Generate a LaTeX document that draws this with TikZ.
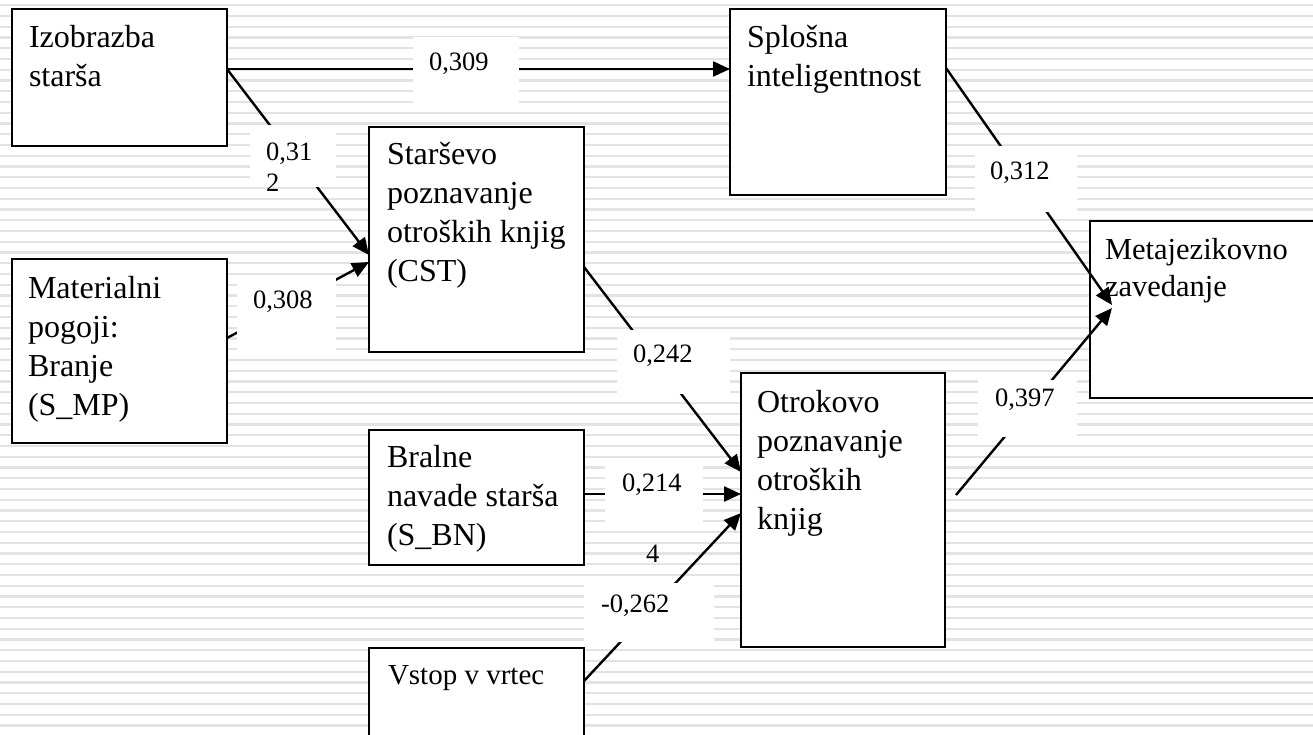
\documentclass[tikz,border=0pt]{standalone}
\usepackage{fontspec}
\setmainfont{Liberation Serif}
\usetikzlibrary{arrows.meta}
\newcommand\fst{\rule{0pt}{0.78em}}
\begin{document}
\begin{tikzpicture}[x=1pt,y=-1pt,
  stripe/.style={draw=black!11, line width=2.2pt},
  box/.style={draw=black, fill=white, line width=2pt, inner sep=0pt, outer sep=0pt, anchor=north west},
  conn/.style={draw=black, line width=2.4pt},
  arr/.style={conn, -{Triangle[length=17pt,width=15pt]}},
  labbg/.style={fill=white},
  txt/.style={anchor=north west, inner sep=0pt, outer sep=0pt, align=left, font=\fontsize{32}{39}\selectfont},
  txtm/.style={txt, font=\fontsize{30.5}{37}\selectfont},
  txts/.style={txt, font=\fontsize{29}{37}\selectfont},
  lab/.style={anchor=north west, inner sep=0pt, outer sep=0pt, align=left, font=\fontsize{26.5}{31}\selectfont}]
\clip (0,0) rectangle (1313,734);
\fill[white] (0,0) rectangle (1313,734);
\foreach \i in {0,...,68} \draw[stripe] (0,5.3+10.75*\i) -- (1313,5.3+10.75*\i);

% boxes
\node[box, minimum width=215pt, minimum height=137pt] (izo) at (12,9) {};
\node[box, minimum width=216pt, minimum height=186pt] (spl) at (730,9) {};
\node[box, minimum width=215pt, minimum height=225pt] (cst) at (369,127) {};
\node[box, minimum width=215pt, minimum height=184pt] (mat) at (12,259) {};
\node[box, minimum width=215pt, minimum height=135pt] (bra) at (369,430) {};
\node[box, minimum width=215pt, minimum height=120pt] (vst) at (369,648) {};
\node[box, minimum width=204pt, minimum height=274pt] (otr) at (741,373) {};
\node[box, minimum width=240pt, minimum height=177pt] (met) at (1090,221) {};

% connectors
\draw[arr] ([yshift=-60pt]izo.north east) -- ([yshift=-60pt]spl.north west);
\draw[arr] ([yshift=-60pt]izo.north east) -- ([yshift=-128pt]cst.north west);
\draw[arr] ([yshift=-79pt]mat.north east) -- ([yshift=-135pt]cst.north west);
\draw[arr] ([yshift=-140pt]cst.north east) -- ([yshift=-99pt]otr.north west);
\draw[arr] ([yshift=-64pt]bra.north east) -- ([yshift=-121pt]otr.north west);
\draw[arr] ([yshift=-33pt]vst.north east) -- ([yshift=-140pt]otr.north west);
\draw[arr] ([yshift=-59pt]spl.north east) -- ([xshift=22pt,yshift=-84pt]met.north west);
\coordinate (otrout) at ([xshift=11pt,yshift=-122pt]otr.north east);
\draw[arr] (otrout) -- ([xshift=22pt,yshift=-87pt]met.north west);

% label backgrounds
\fill[labbg] (413,37) rectangle (519,103);
\fill[labbg] (250,125) rectangle (336,187);
\fill[labbg] (237,275) rectangle (336,350);
\fill[labbg] (617,330) rectangle (730,394);
\fill[labbg] (605,466) rectangle (703,530);
\fill[labbg] (584,583) rectangle (714,642);
\fill[labbg] (975,146) rectangle (1077,212);
\fill[labbg] (978,380) rectangle (1077,437);

% labels
\node[lab] (l309) at (429,50.3) {\fst 0,309};
\node[lab] (l312a) at (266,140.3) {\fst 0,31\\2};
\node[lab] (l308) at (253,288.3) {\fst 0,308};
\node[lab] (l242) at (633,342.3) {\fst 0,242};
\node[lab] (l214) at (622,471.3) {\fst 0,214};
\node[lab] (l4) at (646,542.3) {\fst 4};
\node[lab] (l262) at (601,592.3) {\fst -0,262};
\node[lab] (l312b) at (990,159.3) {\fst 0,312};
\node[lab] (l397) at (995,386.3) {\fst 0,397};

% box texts
\node[txt] (tizo) at (29,23) {\fst Izobrazba\\starša};
\node[txt] (tspl) at (747,23) {\fst Splošna\\inteligentnost};
\node[txt] (tcst) at (387,140) {\fst Starševo\\poznavanje\\otroških knjig\\(CST)};
\node[txt] (tmat) at (28,274) {\fst Materialni\\pogoji:\\Branje\\(S\_MP)};
\node[txt] (tbra) at (387,443) {\fst Bralne\\navade starša\\(S\_BN)};
\node[txts] (tvst) at (388,661.4) {\fst Vstop v vrtec};
\node[txt] (totr) at (757,388) {\fst Otrokovo\\poznavanje\\otroških\\knjig};
\node[txtm] (tmet) at (1105,236.2) {\fst Metajezikovno\\zavedanje};
\end{tikzpicture}
\end{document}
